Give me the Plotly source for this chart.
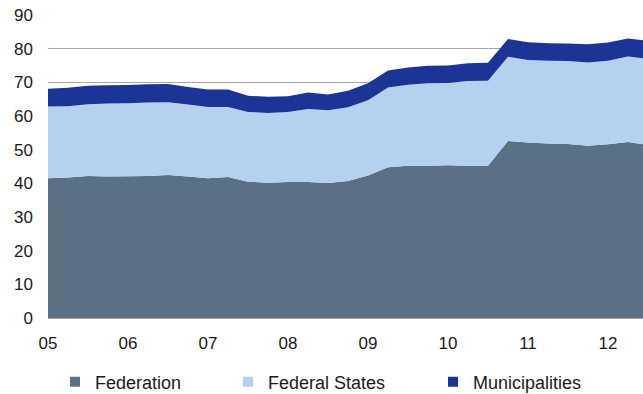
import plotly.graph_objects as go

# Quarterly observations, 2005 Q1 onward (x in decimal years)
quarters = [2005 + k * 0.25 for k in range(31)]

federation = [41.5, 41.7, 42.2, 42.0, 42.1, 42.2, 42.5, 42.0, 41.5, 41.9,
              40.5, 40.2, 40.4, 40.4, 40.1, 40.7, 42.3, 44.8, 45.2, 45.2,
              45.4, 45.2, 45.2, 52.6, 52.1, 51.8, 51.7, 51.2, 51.6, 52.3, 51.4]
federal_states = [21.3, 21.2, 21.3, 21.7, 21.7, 21.8, 21.6, 21.4, 21.2, 20.8,
                  20.7, 20.7, 20.8, 21.7, 21.6, 21.9, 22.4, 23.7, 24.1, 24.5,
                  24.4, 25.2, 25.3, 25.0, 24.5, 24.6, 24.6, 24.7, 24.8, 25.4, 25.6]
municipalities = [5.3, 5.5, 5.5, 5.4, 5.4, 5.4, 5.4, 5.2, 5.2, 5.2,
                  4.8, 4.8, 4.7, 4.9, 4.7, 4.9, 5.0, 5.0, 5.1, 5.2,
                  5.2, 5.3, 5.3, 5.3, 5.3, 5.2, 5.2, 5.4, 5.4, 5.3, 5.3]

series_names = ["Federation", "Federal States", "Municipalities"]
series_values = [federation, federal_states, municipalities]
colors = ["#5B7085", "#B4D2EF", "#1B3496"]

year_ticks = list(range(2005, 2013))
year_labels = ["05", "06", "07", "08", "09", "10", "11", "12"]
y_ticks = list(range(0, 91, 10))

FONT = "Liberation Sans, Arial, sans-serif"
TEXT = "#1A1A1A"

fig = go.Figure()

for name, vals, col in zip(series_names, series_values, colors):
    fig.add_trace(go.Scatter(
        x=quarters, y=vals, name=name, mode="none",
        stackgroup="total", fillcolor=col, showlegend=False,
        hovertemplate="%{y:.1f}<extra>" + name + "</extra>",
    ))

# Legend entries: small square swatches, each in its own legend box
legend_ids = ["legend", "legend2", "legend3"]
legend_x = [55, 228, 433]
for name, col, lid in zip(series_names, colors, legend_ids):
    fig.add_trace(go.Scatter(
        x=[None], y=[None], name=name, mode="markers",
        marker=dict(symbol="square", size=10, color=col),
        legend=lid, showlegend=True,
    ))

legend_common = dict(
    orientation="h", xref="container", yref="container",
    yanchor="middle", y=1 - 382 / 394, xanchor="left",
    font=dict(family=FONT, size=18, color=TEXT),
    bgcolor="rgba(0,0,0,0)", borderwidth=0, itemwidth=30,
)

fig.update_layout(
    width=643, height=394,
    margin=dict(l=48, r=0, t=15, b=76),
    paper_bgcolor="white", plot_bgcolor="white",
    font=dict(family=FONT, size=17, color=TEXT),
    legend=dict(x=legend_x[0] / 643, **legend_common),
    legend2=dict(x=legend_x[1] / 643, **legend_common),
    legend3=dict(x=legend_x[2] / 643, **legend_common),
    xaxis=dict(
        range=[2005, 2005 + 29.75 / 4],
        tickvals=year_ticks, ticktext=year_labels,
        showgrid=False, zeroline=False,
        showline=True, linecolor="#A0A0A0", linewidth=1,
        ticks="", ticklabelstandoff=10,
        tickfont=dict(family=FONT, size=17, color=TEXT),
    ),
    yaxis=dict(
        range=[0, 90], tickvals=y_ticks,
        showgrid=True, gridcolor="#A6A6A6", gridwidth=1,
        zeroline=False, showline=False, ticks="",
        ticklabelstandoff=14,
        tickfont=dict(family=FONT, size=17, color=TEXT),
    ),
)

fig.write_html("out.html")
